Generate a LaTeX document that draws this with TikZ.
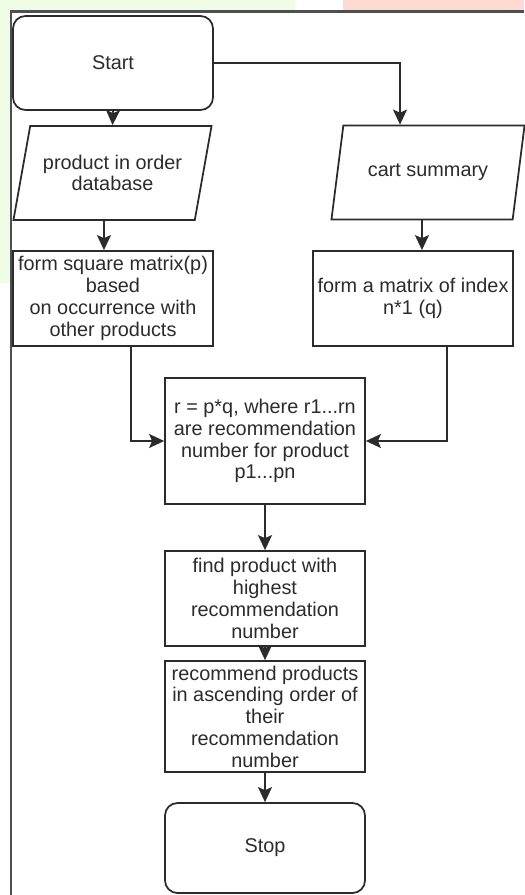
\documentclass[tikz,border=0pt]{standalone}
\usepackage{fontspec}
\setmainfont{Liberation Sans}
\usepackage{tikz}
\usetikzlibrary{shapes.geometric,arrows.meta}

\definecolor{greenbg}{HTML}{F0FCE6}
\definecolor{pinkbg}{HTML}{FFDAD3}
\definecolor{framegray}{HTML}{4F4F4F}
\definecolor{inkgray}{HTML}{2B2B2B}

\begin{document}
\begin{tikzpicture}[
  every node/.style = {text=inkgray, font=\fontsize{11.3}{12.4}\selectfont, align=center, inner sep=1pt},
  proc/.style = {draw=inkgray, line width=1pt, minimum width=4cm},
  term/.style = {proc, rounded corners=0.25cm},
  io/.style = {draw=inkgray, line width=1pt, trapezium, trapezium left angle=70, trapezium right angle=110,
               trapezium stretches=true, minimum width=3.98cm, minimum height=1.88cm},
  arr/.style = {draw=inkgray, line width=0.9pt, -{Stealth[length=0.3cm,width=0.28cm,inset=0.06cm]}}
]
\useasboundingbox (0,0) rectangle (10.48,-17.9);

\fill[greenbg] (0,0) rectangle (5.9,-0.22);
\fill[greenbg] (0,0) rectangle (0.2,-5.66);
\fill[pinkbg] (6.86,0) rectangle (10.48,-0.22);
\draw[framegray, line width=0.06cm] (0.2,-0.23) -- (10.48,-0.23);
\draw[framegray, line width=0.04cm] (0.21,-0.23) -- (0.21,-17.9);

\node[term, minimum height=1.88cm] (start) at (2.26,-1.26) {Start};
\node[io] (prod) at (2.25,-3.46) {product in order\\database};
\node[io, trapezium left angle=67, trapezium right angle=113, minimum width=3.88cm] (cart) at (8.56,-3.45) {cart summary};

\node[proc, minimum height=1.9cm] (matp) at (2.26,-5.97) {form square matrix(p)\\based\\on occurrence with\\other products};
\node[proc, minimum height=1.9cm] (matq) at (8.26,-5.97) {form a matrix of index\\n*1 (q)};

\node[proc, minimum height=2.52cm] (rmul) at (5.3,-8.82) {r = p*q, where r1...rn\\are recommendation\\number for product\\p1...pn};
\node[proc, minimum height=1.9cm] (find) at (5.3,-11.97) {find product with\\highest\\recommendation\\number};
\node[proc, minimum height=2.22cm] (rec) at (5.3,-14.33) {recommend products\\in ascending order of\\their\\recommendation\\number};
\node[term, minimum height=1.8cm] (stop) at (5.3,-16.96) {Stop};

\draw[arr] (start.south) -- (prod.north);
\draw[arr] (start.east) -| ([xshift=-0.56cm]cart.north);
\draw[arr] (prod.bottom side) -- (prod.bottom side |- matp.north);
\draw[arr] (cart.bottom side) -- (cart.bottom side |- matq.north);
\draw[arr] ([xshift=0.36cm]matp.south) |- (rmul.west);
\draw[arr] ([xshift=0.68cm]matq.south) |- (rmul.east);
\draw[arr] (rmul) -- (find);
\draw[arr] (find) -- (rec);
\draw[arr] (rec) -- (stop);
\end{tikzpicture}
\end{document}
